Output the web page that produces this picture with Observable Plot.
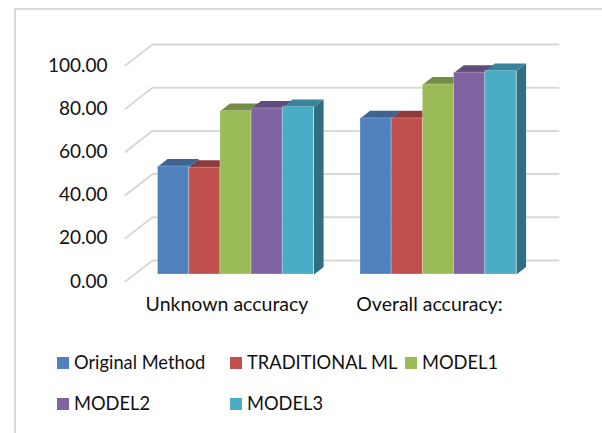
<!DOCTYPE html>
<html>
<head>
<meta charset="utf-8">
<script src="https://cdn.jsdelivr.net/npm/d3@7"></script>
<script src="https://cdn.jsdelivr.net/npm/@observablehq/plot@0.6"></script>
<style>
html,body{margin:0;padding:0;background:#fff;}
#frame{position:absolute;left:14px;top:8px;width:588px;height:425px;border-left:2px solid #d9d9d9;border-top:2px solid #d9d9d9;box-sizing:border-box;}
#chart{position:absolute;left:0;top:0;width:602px;height:433px;overflow:hidden;font-family:Lato,sans-serif;color:#111;}
#chart svg{display:block;background:transparent;overflow:visible;}
#legend{position:absolute;left:57px;top:342px;display:grid;grid-template-columns:173px 175px 120px;grid-auto-rows:41px;font-size:18.3px;line-height:41px;}
.item{display:flex;align-items:center;white-space:nowrap;}
.sw{width:12px;height:12px;margin-right:5px;flex:none;}
</style>
</head>
<body>
<div id="chart"><div id="frame"></div><div id="plot" style="position:relative"></div><div id="legend"></div></div>
<script>
const categories = ["Unknown accuracy", "Overall accuracy:"];
const series = ["Original Method", "TRADITIONAL ML", "MODEL1", "MODEL2", "MODEL3"];
const unknownAccuracy = [50.0, 49.4, 75.7, 76.9, 77.6];
const overallAccuracy = [72.3, 72.3, 88.0, 93.4, 94.2];
const frontColors = ["#4F81BD", "#C0504D", "#9BBB59", "#8064A2", "#4BACC6"];
const topColors = ["#3F6490", "#8F3A38", "#748C43", "#604B7A", "#38849A"];
const sideColors = ["#315F80", "#7a3331", "#5f7537", "#4f3e66", "#316E80"];
const yTicks = [0, 20, 40, 60, 80, 100];
const groupStart = [0, 6.49];
const groupValues = [unknownAccuracy, overallAccuracy];

// oblique depth: one unit of depth moves x and y by these data amounts
const depthX = 0.865, depthY = 9.72;
const nearDepth = 1 / 3, farDepth = 0.69;
const xDomain = [-0.753, 12.26];

const bars = groupStart.flatMap((s, g) => series.map((name, i) => ({
  id: g + "-" + i, i, x1: s + i, x2: s + i + 1, v: groupValues[g][i]
})));
const pr = (x, v, d) => ({x: x + d * depthX, y: v + d * depthY});
const face = (b, kind, pts) => pts.map(p => ({...p, id: b.id, fill: kind[b.i]}));

const tops = bars.flatMap(b => face(b, topColors, [
  pr(b.x1, b.v, nearDepth), pr(b.x2, b.v, nearDepth), pr(b.x2, b.v, farDepth), pr(b.x1, b.v, farDepth)
]));
const sides = bars.flatMap(b => face(b, sideColors, [
  pr(b.x2, 0, nearDepth), pr(b.x2, b.v, nearDepth), pr(b.x2, b.v, farDepth), pr(b.x2, 0, farDepth)
]));
const walls = yTicks.flatMap(v => [
  {...pr(xDomain[0], v, 0), v}, {...pr(xDomain[0], v, 1), v}, {...pr(xDomain[1], v, 1), v}
]);

const fronts = bars.map(b => {
  const a = pr(b.x1, 0, nearDepth), c = pr(b.x2, b.v, nearDepth);
  return {x1: a.x, x2: c.x, y1: a.y, y2: c.y, fill: frontColors[b.i]};
});

const chart = Plot.plot({
  width: 602, height: 335,
  marginLeft: 125, marginRight: 71, marginTop: 65, marginBottom: 54,
  style: {fontFamily: "Lato, sans-serif", fontSize: "19px", color: "#111", background: "transparent"},
  x: {domain: xDomain, axis: null},
  y: {domain: [0, 100], axis: null},
  color: {type: "identity"},
  marks: [
    Plot.line(walls, {x: "x", y: "y", z: "v", stroke: "#d9d9d9", strokeWidth: 2}),
    Plot.axisY({ticks: yTicks, tickFormat: ".2f", tickSize: 0, tickPadding: 18, label: null, fontSize: 19}),
    Plot.axisX({
      ticks: groupStart.map(s => s + 2.5),
      tickFormat: (d) => categories[groupStart.findIndex(s => s + 2.5 === d)],
      tickSize: 0, tickPadding: 16, label: null, fontSize: 19.5
    }),
    Plot.line(sides, {x: "x", y: "y", z: "id", fill: "fill", stroke: "none"}),
    Plot.line(tops, {x: "x", y: "y", z: "id", fill: "fill", stroke: "none"}),
    Plot.rect(fronts, {x1: "x1", x2: "x2", y1: "y1", y2: "y2", fill: "fill", stroke: "#ffffff", strokeOpacity: 0.25, strokeWidth: 1})
  ]
});
document.getElementById("plot").appendChild(chart);

const legend = document.getElementById("legend");
series.forEach((name, i) => {
  const it = document.createElement("div");
  it.className = "item";
  const sw = document.createElement("span");
  sw.className = "sw";
  sw.style.background = frontColors[i];
  const t = document.createElement("span");
  t.textContent = name;
  it.append(sw, t);
  legend.append(it);
});
</script>
</body>
</html>
